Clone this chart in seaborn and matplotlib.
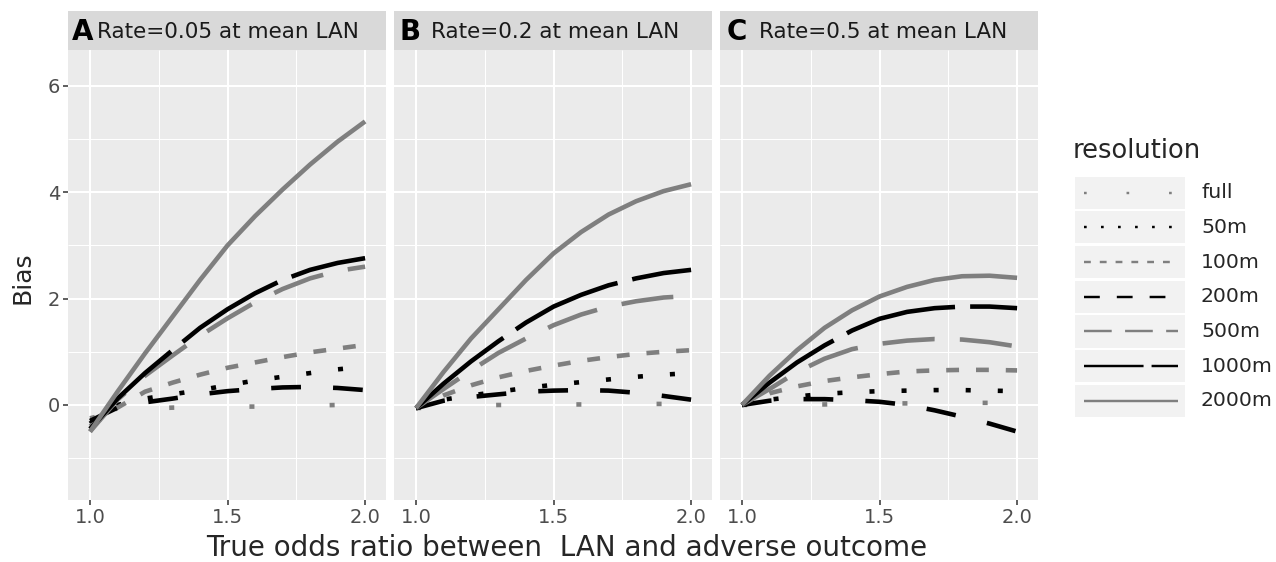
import pandas as pd
import seaborn as sns
import matplotlib.pyplot as plt
from matplotlib.patches import Rectangle

# x grid
odds_ratio = [1.0, 1.1, 1.2, 1.3, 1.4, 1.5, 1.6, 1.7, 1.8, 1.9, 2.0]
resolutions = ["full", "50m", "100m", "200m", "500m", "1000m", "2000m"]
panel_letters = ["A", "B", "C"]
panel_titles = ["Rate=0.05 at mean LAN", "Rate=0.2 at mean LAN", "Rate=0.5 at mean LAN"]

# bias per resolution, panel A (rate 0.05)
bias_rate_005 = {
    "full": [-0.25, -0.12, -0.07, -0.05, -0.04, -0.03, -0.03, -0.02, -0.01, 0.0, 0.0],
    "50m": [-0.35, 0.0, 0.12, 0.2, 0.28, 0.37, 0.46, 0.53, 0.6, 0.67, 0.72],
    "100m": [-0.4, -0.05, 0.25, 0.42, 0.57, 0.7, 0.8, 0.9, 0.99, 1.06, 1.13],
    "200m": [-0.3, -0.05, 0.05, 0.12, 0.2, 0.26, 0.3, 0.33, 0.34, 0.32, 0.28],
    "500m": [-0.5, 0.1, 0.55, 0.93, 1.3, 1.63, 1.93, 2.18, 2.38, 2.52, 2.6],
    "1000m": [-0.45, 0.12, 0.6, 1.03, 1.45, 1.8, 2.1, 2.35, 2.54, 2.67, 2.76],
    "2000m": [-0.5, 0.25, 0.97, 1.66, 2.35, 3.0, 3.55, 4.05, 4.52, 4.95, 5.33],
}
# panel B (rate 0.2)
bias_rate_02 = {
    "full": [-0.06, -0.03, -0.01, 0.0, 0.0, 0.01, 0.01, 0.01, 0.02, 0.02, 0.02],
    "50m": [-0.06, 0.1, 0.18, 0.25, 0.32, 0.38, 0.43, 0.48, 0.53, 0.57, 0.6],
    "100m": [-0.06, 0.18, 0.37, 0.52, 0.64, 0.74, 0.83, 0.9, 0.96, 1.0, 1.03],
    "200m": [-0.06, 0.08, 0.15, 0.2, 0.25, 0.27, 0.28, 0.27, 0.23, 0.17, 0.1],
    "500m": [-0.06, 0.3, 0.65, 0.98, 1.25, 1.5, 1.7, 1.85, 1.95, 2.02, 2.05],
    "1000m": [-0.06, 0.4, 0.82, 1.2, 1.55, 1.85, 2.07, 2.25, 2.38, 2.48, 2.54],
    "2000m": [-0.06, 0.62, 1.25, 1.8, 2.35, 2.85, 3.25, 3.58, 3.83, 4.02, 4.15],
}
# panel C (rate 0.5)
bias_rate_05 = {
    "full": [0.0, 0.01, 0.01, 0.01, 0.02, 0.03, 0.03, 0.03, 0.04, 0.04, 0.04],
    "50m": [0.0, 0.1, 0.16, 0.21, 0.24, 0.26, 0.27, 0.28, 0.28, 0.27, 0.26],
    "100m": [0.0, 0.22, 0.35, 0.45, 0.52, 0.58, 0.63, 0.65, 0.66, 0.66, 0.65],
    "200m": [0.0, 0.08, 0.11, 0.11, 0.09, 0.06, 0.0, -0.1, -0.22, -0.35, -0.5],
    "500m": [0.0, 0.3, 0.62, 0.87, 1.05, 1.15, 1.21, 1.24, 1.23, 1.18, 1.1],
    "1000m": [0.0, 0.42, 0.8, 1.12, 1.4, 1.62, 1.75, 1.82, 1.85, 1.85, 1.82],
    "2000m": [0.0, 0.55, 1.03, 1.45, 1.78, 2.04, 2.22, 2.35, 2.42, 2.43, 2.39],
}
panel_data = [bias_rate_005, bias_rate_02, bias_rate_05]

# long table for seaborn
rows = []
for letter, bias in zip(panel_letters, panel_data):
    for res in resolutions:
        for x, y in zip(odds_ratio, bias[res]):
            rows.append({"panel": letter, "resolution": res, "odds_ratio": x, "bias": y})
df = pd.DataFrame(rows)

grey = "#7f7f7f"
line_colours = {"full": grey, "50m": "black", "100m": grey, "200m": "black",
                "500m": grey, "1000m": "black", "2000m": grey}
line_dashes = {"full": (1.1, 16.4), "50m": (1.1, 5.9), "100m": (2.8, 3.7),
               "200m": (6.5, 7.0), "500m": (11.4, 5.5), "1000m": (24.5, 3.3),
               "2000m": ""}

sns.set_theme(style="darkgrid", rc={"axes.facecolor": "#EBEBEB", "grid.color": "white"})
plt.rcParams["font.family"] = ["DejaVu Sans"]
plt.rcParams["lines.solid_capstyle"] = "butt"
plt.rcParams["lines.dash_capstyle"] = "butt"

W, H = 1276, 562
fig = plt.figure(figsize=(W / 100, H / 100), dpi=100)

panel_left = [68, 394, 720]
panel_w = 318
top, bottom = 50, 500
letter_off = [4, 6, 7]
title_off = [29, 37, 39]

for i, letter in enumerate(panel_letters):
    x0 = panel_left[i]
    ax = fig.add_axes([x0 / W, 1 - bottom / H, panel_w / W, (bottom - top) / H])
    sub = df[df["panel"] == letter]
    sns.lineplot(data=sub, x="odds_ratio", y="bias", hue="resolution", style="resolution",
                 hue_order=resolutions, style_order=resolutions, palette=line_colours,
                 dashes=line_dashes, linewidth=3.3, legend=False, sort=False, ax=ax)
    ax.set_xlim(0.92, 2.076)
    ax.set_ylim(-1.786, 6.673)
    ax.set_xticks([1.0, 1.5, 2.0])
    ax.set_xticklabels(["1.0", "1.5", "2.0"])
    ax.set_xticks([1.25, 1.75], minor=True)
    ax.set_yticks([0, 2, 4, 6])
    ax.set_yticks([-1, 1, 3, 5], minor=True)
    ax.grid(which="major", color="white", linewidth=1.5)
    ax.grid(which="minor", color="white", linewidth=0.75)
    ax.set_xlabel("")
    ax.set_ylabel("")
    for s in ax.spines.values():
        s.set_visible(False)
    ax.tick_params(which="major", length=3.5, width=1.1, color="#333333",
                   labelcolor="#4D4D4D", labelsize=14, pad=2)
    ax.tick_params(which="minor", length=0)
    ax.tick_params(axis="x", bottom=True)
    if i == 0:
        ax.tick_params(axis="y", left=True)
    else:
        ax.tick_params(axis="y", left=False, labelleft=False)

    # facet strip
    sax = fig.add_axes([x0 / W, 1 - top / H, panel_w / W, 39 / H])
    sax.set_facecolor("#D9D9D9")
    sax.set_xticks([])
    sax.set_yticks([])
    sax.grid(False)
    for s in sax.spines.values():
        s.set_visible(False)
    sax.text(letter_off[i] / panel_w, 0.47, letter, transform=sax.transAxes,
             fontsize=20, fontweight="bold", ha="left", va="center", color="black")
    sax.text(title_off[i] / panel_w, 0.47, panel_titles[i], transform=sax.transAxes,
             fontsize=15.5, ha="left", va="center", color="#1A1A1A")

fig.text(567 / W, 1 - 548 / H, "True odds ratio between  LAN and adverse outcome",
         ha="center", va="center", fontsize=20)
fig.text(23 / W, 1 - 278 / H, "Bias", ha="center", va="center", rotation=90, fontsize=18)

# legend drawn in pixel coordinates
lax = fig.add_axes([0, 0, 1, 1])
lax.set_xlim(0, W)
lax.set_ylim(H, 0)
lax.axis("off")
lax.text(1073, 158, "resolution", fontsize=18.5, ha="left", va="baseline")
row_top, row_h = 176.5, 34.7
for j, res in enumerate(resolutions):
    y0 = row_top + j * row_h
    lax.add_patch(Rectangle((1075, y0), 110, row_h - 2.5, facecolor="#F2F2F2",
                            edgecolor="none"))
    yc = y0 + (row_h - 2.5) / 2
    lax.plot([1084, 1178], [yc, yc], color=line_colours[res], linewidth=1.75,
             dashes=line_dashes[res] if line_dashes[res] else (None, None))
    lax.text(1201, yc, res, fontsize=14.7, ha="left", va="center")

fig.savefig("out.png", dpi=100)
